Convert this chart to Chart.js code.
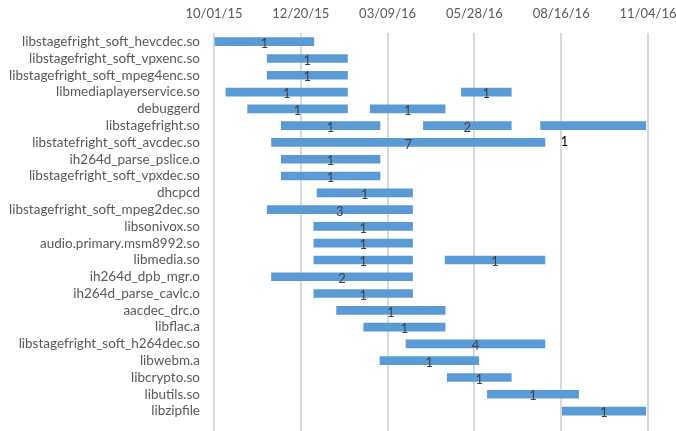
<!DOCTYPE html>
<html>
<head>
<meta charset="utf-8">
<script src="https://cdn.jsdelivr.net/npm/chart.js@4/dist/chart.umd.min.js"></script>
<style>
  html, body { margin: 0; padding: 0; background: #fff; }
  #wrap { width: 676px; height: 431px; }
</style>
</head>
<body>
<div id="wrap"><canvas id="c" width="676" height="431"></canvas></div>
<script>
// ---- DATA ----
const categories = [
  "libstagefright_soft_hevcdec.so",
  "libstagefright_soft_vpxenc.so",
  "libstagefright_soft_mpeg4enc.so",
  "libmediaplayerservice.so",
  "debuggerd",
  "libstagefright.so",
  "libstatefright_soft_avcdec.so",
  "ih264d_parse_pslice.o",
  "libstagefright_soft_vpxdec.so",
  "dhcpcd",
  "libstagefright_soft_mpeg2dec.so",
  "libsonivox.so",
  "audio.primary.msm8992.so",
  "libmedia.so",
  "ih264d_dpb_mgr.o",
  "ih264d_parse_cavlc.o",
  "aacdec_drc.o",
  "libflac.a",
  "libstagefright_soft_h264dec.so",
  "libwebm.a",
  "libcrypto.so",
  "libutils.so",
  "libzipfile"
];

// One entry per bar segment
const segCategory = [
  "libstagefright_soft_hevcdec.so",
  "libstagefright_soft_vpxenc.so",
  "libstagefright_soft_mpeg4enc.so",
  "libmediaplayerservice.so", "libmediaplayerservice.so",
  "debuggerd", "debuggerd",
  "libstagefright.so", "libstagefright.so", "libstagefright.so",
  "libstatefright_soft_avcdec.so",
  "ih264d_parse_pslice.o",
  "libstagefright_soft_vpxdec.so",
  "dhcpcd",
  "libstagefright_soft_mpeg2dec.so",
  "libsonivox.so",
  "audio.primary.msm8992.so",
  "libmedia.so", "libmedia.so",
  "ih264d_dpb_mgr.o",
  "ih264d_parse_cavlc.o",
  "aacdec_drc.o",
  "libflac.a",
  "libstagefright_soft_h264dec.so",
  "libwebm.a",
  "libcrypto.so",
  "libutils.so",
  "libzipfile"
];
const segStart = [
  "2015-10-01",
  "2015-11-19",
  "2015-11-19",
  "2015-10-12", "2016-05-16",
  "2015-11-01", "2016-02-22",
  "2015-12-02", "2016-04-11", "2016-07-28",
  "2015-11-23",
  "2015-12-02",
  "2015-12-02",
  "2016-01-04",
  "2015-11-19",
  "2016-01-01",
  "2016-01-01",
  "2016-01-01", "2016-05-01",
  "2015-11-23",
  "2016-01-01",
  "2016-01-22",
  "2016-02-16",
  "2016-03-26",
  "2016-03-02",
  "2016-05-03",
  "2016-06-09",
  "2016-08-17"
];
const segEnd = [
  "2016-01-01",
  "2016-02-01",
  "2016-02-01",
  "2016-02-01", "2016-07-01",
  "2016-02-01", "2016-05-01",
  "2016-03-02", "2016-07-01", "2016-11-02",
  "2016-08-01",
  "2016-03-02",
  "2016-03-02",
  "2016-04-01",
  "2016-04-01",
  "2016-04-01",
  "2016-04-01",
  "2016-04-01", "2016-08-01",
  "2016-04-01",
  "2016-04-01",
  "2016-05-01",
  "2016-05-01",
  "2016-08-01",
  "2016-06-01",
  "2016-07-01",
  "2016-09-01",
  "2016-11-02"
];
const segCount = [
  "1",
  "1",
  "1",
  "1", "1",
  "1", "1",
  "1", "2", "",
  "7",
  "1",
  "1",
  "1",
  "3",
  "1",
  "1",
  "1", "1",
  "2",
  "1",
  "1",
  "1",
  "4",
  "1",
  "1",
  "1",
  "1"
];
// stray label shown off its bar in the original
const extraLabelCategory = ["libstatefright_soft_avcdec.so"];
const extraLabelDate = ["2016-08-19"];
const extraLabelText = ["1"];

const axisStart = "2015-10-01";
const axisEnd = "2016-11-04";
const tickStepDays = 80;

// ---- helpers ----
const DAY = 86400000;
function dayOf(s) {
  const [y, m, d] = s.split('-').map(Number);
  const [y0, m0, d0] = axisStart.split('-').map(Number);
  return Math.round((Date.UTC(y, m - 1, d) - Date.UTC(y0, m0 - 1, d0)) / DAY);
}
function fmt(days) {
  const [y0, m0, d0] = axisStart.split('-').map(Number);
  const dt = new Date(Date.UTC(y0, m0 - 1, d0) + days * DAY);
  const mm = String(dt.getUTCMonth() + 1).padStart(2, '0');
  const dd = String(dt.getUTCDate()).padStart(2, '0');
  const yy = String(dt.getUTCFullYear() % 100).padStart(2, '0');
  return mm + '/' + dd + '/' + yy;
}

const barData = segCategory.map((c, i) => ({
  x: [dayOf(segStart[i]), dayOf(segEnd[i])],
  y: categories.indexOf(c)
}));

const labelPlugin = {
  id: 'barLabels',
  afterDatasetsDraw(chart) {
    const ctx = chart.ctx;
    const meta = chart.getDatasetMeta(0);
    ctx.save();
    ctx.font = '13px Lato';
    ctx.textAlign = 'center';
    ctx.textBaseline = 'middle';
    ctx.fillStyle = '#404040';
    meta.data.forEach((el, i) => {
      const t = segCount[i];
      if (!t) return;
      ctx.fillText(t, (el.x + el.base) / 2, el.y + 2);
    });
    const xs = chart.scales.x, ys = chart.scales.y;
    ctx.fillStyle = '#000000';
    extraLabelText.forEach((t, i) => {
      const px = xs.getPixelForValue(dayOf(extraLabelDate[i]));
      const py = ys.getPixelForValue(categories.indexOf(extraLabelCategory[i]));
      ctx.fillText(t, px, py - 1);
    });
    ctx.restore();
  }
};

function noPad(s) {
  s.paddingLeft = 0; s.paddingRight = 0; s.paddingTop = 0; s.paddingBottom = 0;
}

const rowTop = -0.518;
const rowBottom = 23.187;

new Chart(document.getElementById('c'), {
  type: 'bar',
  data: {
    datasets: [{
      data: barData,
      backgroundColor: '#5B9BD5',
      borderWidth: 0,
      barThickness: 8
    }]
  },
  options: {
    indexAxis: 'y',
    responsive: false,
    animation: false,
    layout: { padding: { left: 0, right: 28, top: 0, bottom: 0 } },
    plugins: { legend: { display: false }, tooltip: { enabled: false } },
    scales: {
      x: {
        type: 'linear',
        position: 'top',
        min: 0,
        max: dayOf(axisEnd),
        afterBuildTicks: (s) => {
          const t = [];
          for (let v = 0; v <= dayOf(axisEnd); v += tickStepDays) t.push({ value: v });
          s.ticks = t;
        },
        afterFit: (s) => { s.height = 33; noPad(s); },
        grid: { color: '#d9d9d9', lineWidth: 2, drawTicks: false },
        border: { display: false },
        ticks: {
          callback: (v) => fmt(v),
          color: '#595959',
          font: { family: 'Lato', size: 13 },
          padding: 11,
          maxRotation: 0,
          autoSkip: false
        }
      },
      y: {
        type: 'linear',
        reverse: true,
        offset: false,
        min: rowTop,
        max: rowBottom,
        afterBuildTicks: (s) => { s.ticks = categories.map((_, i) => ({ value: i })); },
        afterFit: (s) => { s.width = 214; noPad(s); },
        grid: { display: false, drawTicks: false, offset: false },
        border: { display: false },
        ticks: {
          callback: (v) => categories[v],
          color: '#595959',
          font: { family: 'Lato', size: 13.5 },
          padding: 14,
          autoSkip: false
        }
      }
    }
  },
  plugins: [labelPlugin]
});
</script>
</body>
</html>
